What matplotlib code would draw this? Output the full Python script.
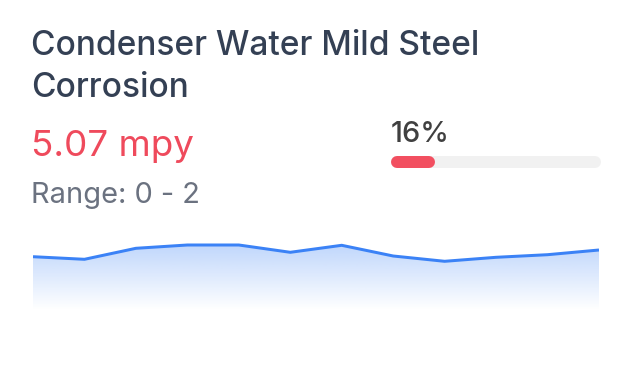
import numpy as np
import matplotlib.pyplot as plt
from matplotlib.path import Path
from matplotlib.patches import PathPatch

plt.rcParams['font.family'] = ['Inter', 'DejaVu Sans']

# card data
title_lines = ["Condenser Water Mild Steel", "Corrosion"]
value_text = "5.07 mpy"
range_text = "Range: 0 - 2"
pct = 16

# sparkline history (relative readings)
trend = [5.33, 5.07, 6.17, 6.5, 6.5, 5.77, 6.47, 5.4, 4.87, 5.27, 5.53, 6.0]

W, H = 632, 374
fig = plt.figure(figsize=(W / 100, H / 100), dpi=100)
fig.patch.set_facecolor("white")

def fx(px):
    return px / W

def fy(py):
    return 1 - py / H

for i, line in enumerate(title_lines):
    fig.text(fx(31), fy(55 + 42 * i), line, fontsize=24.1, color="#344054",
             va="baseline", ha="left", weight=500)
fig.text(fx(31), fy(156), value_text, fontsize=26.5, color="#ef4a5c",
         va="baseline", ha="left")
fig.text(fx(31), fy(203), range_text, fontsize=20.9, color="#6b7280",
         va="baseline", ha="left")
fig.text(fx(391), fy(142), f"{pct}%", fontsize=20.8, color="#404040",
         va="baseline", ha="left", weight=500)

# progress bar
bx = fig.add_axes([fx(397), fy(168), fx(595) - fx(397), fy(156) - fy(168)])
bx.set_xlim(0, 100)
bx.set_ylim(0, 1)
bx.axis("off")
lw = 12 * 72 / 100
bx.plot([0, 100], [0.5, 0.5], color="#f1f1f1", lw=lw, solid_capstyle="round", clip_on=False)
bx.plot([0, pct], [0.5, 0.5], color="#f24f60", lw=lw, solid_capstyle="round", clip_on=False)

# sparkline
ax = fig.add_axes([fx(33), fy(310), fx(599) - fx(33), fy(220) - fy(310)])
x = np.arange(len(trend))
ax.set_xlim(0, len(trend) - 1)
ax.set_ylim(0, 9)
ax.axis("off")

top = max(trend)
grad = np.zeros((256, 1, 4))
grad[..., 0] = 0x3b / 255
grad[..., 1] = 0x82 / 255
grad[..., 2] = 0xf6 / 255
grad[:, 0, 3] = np.linspace(0, 0.32, 256)
img = ax.imshow(grad, extent=[0, len(trend) - 1, 0, top], origin="lower",
                aspect="auto", zorder=1)
verts = [(0, 0)] + list(zip(x, trend)) + [(len(trend) - 1, 0), (0, 0)]
codes = [Path.MOVETO] + [Path.LINETO] * (len(verts) - 2) + [Path.CLOSEPOLY]
clip = PathPatch(Path(verts, codes), facecolor="none", edgecolor="none")
ax.add_patch(clip)
img.set_clip_path(clip)

ax.plot(x, trend, color="#3b82f6", lw=3 * 72 / 100, solid_joinstyle="round",
        solid_capstyle="butt", zorder=2)

fig.savefig("out.png", dpi=100, facecolor="white")
